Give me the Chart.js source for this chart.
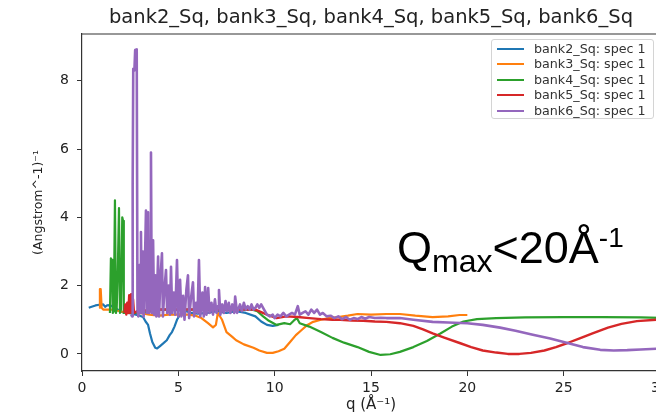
<!DOCTYPE html>
<html>
<head>
<meta charset="utf-8">
<script src="https://cdn.jsdelivr.net/npm/chart.js@4.4.0/dist/chart.umd.min.js"></script>
<style>
  html, body { margin: 0; padding: 0; background: #fff; overflow: hidden; }
  #wrap { position: relative; width: 700px; height: 414px; }
  #legend {
    position: absolute; left: 491px; top: 39px; width: 161px; height: 78px;
    border: 1px solid #d4d4d4; border-radius: 3px; background: rgba(255,255,255,0.85);
    font-family: "DejaVu Sans", sans-serif; font-size: 12.7px; color: #333;
  }
  #legend .row { position: absolute; left: 0; height: 15px; line-height: 15px; white-space: nowrap; }
  #legend .swatch { position: absolute; left: 5px; top: 7px; width: 27px; height: 2px; }
  #legend .label { position: absolute; left: 42px; top: 0; }
  #note {
    position: absolute; left: 397px; top: 225px; line-height: 1;
    font-family: "Liberation Sans", Arial, sans-serif; font-size: 45px; color: #000; white-space: nowrap;
  }
  #note .sub { font-size: 32px; position: relative; top: 9px; }
  #note .sup { font-size: 28px; position: relative; top: -16px; }
</style>
</head>
<body>
<div id="wrap">
  <canvas id="chart"></canvas>
  <div id="legend"></div>
  <div id="note">Q<span class="sub">max</span>&lt;20Å<span class="sup">-1</span></div>
</div>
<script>
const chartTitle = "bank2_Sq, bank3_Sq, bank4_Sq, bank5_Sq, bank6_Sq";
const seriesNames = ["bank2_Sq: spec 1", "bank3_Sq: spec 1", "bank4_Sq: spec 1", "bank5_Sq: spec 1", "bank6_Sq: spec 1"];
const seriesColors = ["#1f77b4", "#ff7f0e", "#2ca02c", "#d62728", "#9467bd"];
const xTicks = [0, 5, 10, 15, 20, 25, 30];
const yTicks = [0, 2, 4, 6, 8];

// [q, S(q)]
const bank2 = [
  [0.35,1.35],[0.5,1.38],[0.7,1.42],[0.9,1.44],[1.1,1.45],[1.2,1.38],[1.3,1.42],[1.45,1.43],[1.6,1.38],
  [1.8,1.32],[2.0,1.25],[2.2,1.2],[2.4,1.2],[2.6,1.18],[2.8,1.15],[3.0,1.12],[3.17,1.08],[3.3,0.95],
  [3.43,0.85],[3.53,0.6],[3.65,0.35],[3.8,0.18],[3.9,0.16],[4.05,0.23],[4.2,0.3],[4.4,0.4],[4.55,0.55],
  [4.67,0.64],[4.8,0.8],[4.93,1.0],[5.05,1.12],[5.2,1.23],[5.4,1.25],[5.7,1.2],[6.0,1.18],[6.5,1.2],
  [7.0,1.25],[7.5,1.2],[8.0,1.25],[8.5,1.2],[9.0,1.1],[9.3,0.95],[9.6,0.85],[9.9,0.82],[10.2,0.85]
];
const bank3 = [
  [0.9,1.35],[0.93,1.9],[0.97,1.9],[1.02,1.35],[1.1,1.3],[1.3,1.3],[1.5,1.3],[1.7,1.28],[2.0,1.25],
  [2.3,1.2],[2.6,1.25],[3.0,1.2],[3.5,1.15],[4.0,1.12],[4.5,1.15],[5.0,1.15],[5.5,1.15],[5.9,1.12],
  [6.2,1.05],[6.54,0.9],[6.8,0.78],[6.95,0.85],[7.05,1.2],[7.27,1.0],[7.5,0.64],[7.8,0.5],[8.0,0.4],
  [8.4,0.28],[8.9,0.18],[9.2,0.1],[9.6,0.03],[9.9,0.03],[10.2,0.08],[10.5,0.15],[10.8,0.35],[11.1,0.55],
  [11.4,0.7],[11.7,0.85],[12.0,0.94],[12.4,1.0],[12.8,1.05],[13.3,1.08],[13.8,1.12],[14.3,1.17],
  [15.0,1.15],[15.8,1.17],[16.5,1.17],[17.3,1.12],[18.2,1.08],[19.0,1.1],[19.6,1.14],[20.0,1.14]
];
const bank4 = [
  [1.45,1.2],[1.5,2.8],[1.56,2.75],[1.6,1.2],[1.65,1.25],[1.71,4.5],[1.76,1.2],[1.8,1.3],[1.86,2.5],
  [1.92,4.27],[1.97,1.2],[2.02,1.3],[2.09,4.0],[2.13,3.9],[2.17,1.2],[2.25,1.25],[2.5,1.2],[3.0,1.2],
  [4.0,1.3],[5.0,1.3],[6.0,1.3],[7.0,1.3],[8.0,1.3],[8.8,1.3],[9.1,1.25],[9.4,1.1],[9.7,0.97],
  [10.1,0.85],[10.5,0.9],[10.8,0.87],[11.0,0.98],[11.15,1.05],[11.3,0.9],[11.8,0.8],[12.4,0.64],
  [13.0,0.47],[13.6,0.33],[14.3,0.2],[14.9,0.06],[15.5,-0.03],[16.0,-0.01],[16.5,0.06],[17.2,0.2],
  [17.9,0.38],[18.6,0.6],[19.2,0.8],[19.8,0.95],[20.5,1.02],[21.5,1.05],[23.0,1.07],[25.0,1.08],
  [27.0,1.08],[29.0,1.07],[30.5,1.05]
];
const bank5 = [
  [2.2,1.2],[2.25,1.45],[2.3,1.15],[2.35,1.5],[2.4,1.2],[2.45,1.72],[2.5,1.2],[2.55,1.75],[2.6,1.25],
  [2.65,1.6],[2.7,1.2],[3.0,1.3],[3.5,1.25],[4.0,1.3],[5.0,1.3],[6.0,1.3],[7.0,1.3],[8.0,1.3],[9.0,1.3],
  [9.6,1.15],[10.1,1.05],[10.6,1.1],[11.2,1.08],[11.8,1.05],[12.4,1.02],[13.0,1.0],[13.4,1.0],[14.0,0.98],
  [14.6,0.97],[15.2,0.95],[15.8,0.94],[16.5,0.9],[17.2,0.82],[17.7,0.72],[18.2,0.6],[18.8,0.48],
  [19.6,0.32],[20.2,0.2],[20.8,0.1],[21.5,0.04],[22.1,0.0],[22.7,0.0],[23.3,0.03],[24.0,0.1],[24.6,0.2],
  [25.2,0.32],[25.8,0.45],[26.5,0.6],[27.3,0.77],[28.0,0.88],[28.8,0.96],[29.8,1.0],[30.5,1.02]
];
const bank6 = [
  [2.55,1.15],[2.6,1.1],[2.63,5.0],[2.66,8.35],[2.72,8.3],[2.76,8.9],[2.84,8.92],[2.88,1.3],[2.92,1.1],
  [2.98,2.6],[3.02,1.2],[3.06,3.57],[3.1,1.2],[3.16,3.0],[3.2,1.1],[3.26,2.5],[3.32,4.2],[3.36,1.2],
  [3.43,4.15],[3.48,1.2],[3.53,2.9],[3.58,5.9],[3.62,1.2],[3.69,3.33],[3.74,1.15],[3.8,2.3],[3.86,1.1],
  [3.95,2.85],[4.0,1.1],[4.07,2.2],[4.15,2.95],[4.2,1.1],[4.28,1.9],[4.36,2.46],[4.42,1.2],[4.5,2.0],
  [4.56,1.15],[4.62,2.55],[4.68,1.2],[4.76,1.8],[4.84,1.15],[4.93,2.75],[5.0,1.1],[5.09,2.17],[5.16,1.1],
  [5.25,1.7],[5.32,1.0],[5.42,1.9],[5.5,2.3],[5.56,1.05],[5.65,1.6],[5.76,2.1],[5.82,1.1],[5.92,1.5],
  [6.0,1.2],[6.07,2.75],[6.14,1.1],[6.25,1.8],[6.32,1.1],[6.39,1.96],[6.46,1.15],[6.55,1.93],[6.62,1.2],
  [6.72,1.5],[6.8,1.15],[6.9,1.6],[6.98,1.2],[7.06,1.4],[7.11,1.87],[7.18,1.15],[7.28,1.45],[7.36,1.2],
  [7.45,1.55],[7.53,1.25],[7.62,1.5],[7.7,1.2],[7.8,1.45],[7.9,1.2],[7.95,1.68],[8.05,1.2],[8.2,1.45],
  [8.3,1.25],[8.4,1.5],[8.5,1.3],[8.6,1.4],[8.7,1.3],[8.8,1.45],[8.9,1.3],[9.0,1.35],[9.1,1.45],
  [9.2,1.35],[9.3,1.45],[9.45,1.3],[9.6,1.15],[9.75,1.1],[9.9,1.15],[10.0,1.05],[10.15,1.15],[10.3,1.1],
  [10.45,1.2],[10.6,1.1],[10.75,1.15],[10.9,1.2],[11.05,1.15],[11.2,1.4],[11.3,1.15],[11.45,1.2],
  [11.6,1.25],[11.75,1.15],[11.9,1.3],[12.05,1.2],[12.2,1.3],[12.35,1.15],[12.5,1.2],[12.7,1.1],
  [12.9,1.12],[13.1,1.05],[13.3,1.1],[13.5,1.02],[13.7,1.08],[13.9,1.0],[14.1,1.05],[14.3,1.02],
  [14.5,1.08],[14.7,1.03],[14.9,1.08],[15.2,1.05],[15.5,1.06],[15.8,1.05],[16.5,1.05],[17.2,1.0],
  [18.2,0.94],[19.0,0.92],[20.0,0.9],[20.8,0.85],[21.7,0.77],[22.5,0.68],[23.4,0.56],[24.3,0.45],
  [25.2,0.32],[26.0,0.2],[26.9,0.12],[27.6,0.1],[28.3,0.11],[29.0,0.13],[29.8,0.15],[30.5,0.15]
];
const seriesData = [bank2, bank3, bank4, bank5, bank6];
const lineWidths = [2.2, 2.2, 2.2, 2.4, 2.6];

const fontFamily = '"DejaVu Sans", sans-serif';

// top and right spines
const frame = {
  id: "frame",
  afterDraw(chart) {
    const { ctx, chartArea } = chart;
    ctx.save();
    ctx.strokeStyle = "#333";
    ctx.lineWidth = 1.2;
    ctx.beginPath();
    ctx.moveTo(chartArea.left, chartArea.top);
    ctx.lineTo(chartArea.right, chartArea.top);
    ctx.lineTo(chartArea.right, chartArea.bottom);
    ctx.stroke();
    ctx.restore();
  }
};

const datasets = seriesData.map((points, i) => ({
  label: seriesNames[i],
  data: points.map(p => ({ x: p[0], y: p[1] })),
  borderColor: seriesColors[i],
  backgroundColor: seriesColors[i],
  borderWidth: lineWidths[i],
  borderJoinStyle: "round",
  pointRadius: 0,
  tension: 0,
  order: seriesData.length - i
}));

new Chart(document.getElementById("chart"), {
  type: "line",
  data: { datasets },
  options: {
    responsive: true,
    maintainAspectRatio: false,
    animation: false,
    layout: { padding: { left: 0, right: 40, top: 0, bottom: 0 } },
    scales: {
      x: {
        type: "linear",
        min: 0,
        max: 30,
        afterBuildTicks: s => { s.ticks = xTicks.map(v => ({ value: v })); },
        afterFit: s => { s.height = 43; },
        border: { color: "#333", width: 1.2 },
        grid: { drawOnChartArea: false, tickLength: 5, color: "#333" },
        ticks: { font: { family: fontFamily, size: 14 }, color: "#222", padding: 4, maxRotation: 0, autoSkip: false },
        title: {
          display: true,
          text: "q (Å⁻¹)",
          font: { family: fontFamily, size: 15 },
          color: "#222",
          padding: { top: 0, bottom: 0 }
        }
      },
      y: {
        min: -0.5,
        max: 9.37,
        afterBuildTicks: s => { s.ticks = yTicks.map(v => ({ value: v })); },
        afterFit: s => { s.width = 82; },
        border: { color: "#333", width: 1.2 },
        grid: { drawOnChartArea: false, tickLength: 5, color: "#333" },
        ticks: { font: { family: fontFamily, size: 14 }, color: "#222", padding: 8 },
        title: {
          display: true,
          text: "(Angstrom^-1)⁻¹",
          font: { family: fontFamily, size: 12.5 },
          color: "#222",
          padding: { top: 31, bottom: 0 }
        }
      }
    },
    plugins: {
      legend: { display: false },
      tooltip: { enabled: false },
      title: {
        display: true,
        text: chartTitle,
        fullSize: false,
        font: { family: fontFamily, size: 19.5, weight: "normal" },
        color: "#222",
        padding: { top: 6.3, bottom: 4.3 }
      }
    }
  },
  plugins: [frame]
});

document.getElementById("legend").innerHTML = seriesNames.map((name, i) => `
  <div class="row" style="top:${1 + i * 15.4}px">
    <span class="swatch" style="background:${seriesColors[i]}"></span>
    <span class="label">${name}</span>
  </div>
`).join("");
</script>
</body>
</html>
